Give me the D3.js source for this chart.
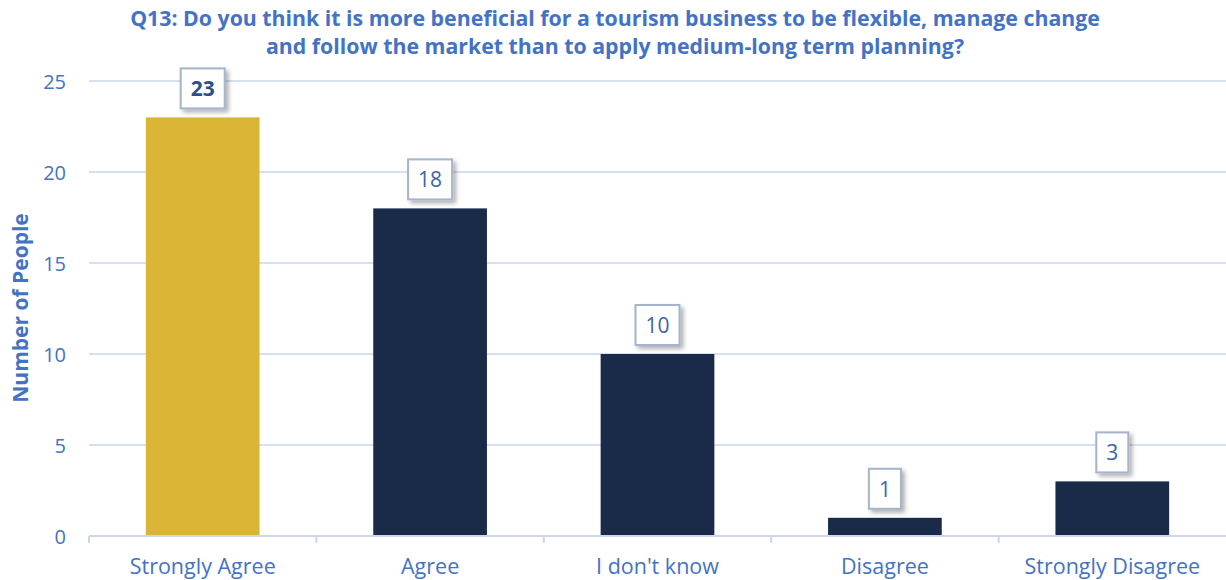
<!DOCTYPE html>
<html>
<head>
<meta charset="utf-8">
<script src="https://cdn.jsdelivr.net/npm/d3@7"></script>
<style>
  html, body { margin: 0; padding: 0; background: #fff; }
  svg { display: block; font-family: "Open Sans", sans-serif; }
</style>
</head>
<body>
<svg id="chart" width="1226" height="580"></svg>
<script>
const categories = ["Strongly Agree", "Agree", "I don't know", "Disagree", "Strongly Disagree"];
const values = [23, 18, 10, 1, 3];
const yTicks = [0, 5, 10, 15, 20, 25];
const titleLines = [
  "Q13: Do you think it is more beneficial for a tourism business to be flexible, manage change",
  "and follow the market than to apply medium-long term planning?"
];
const yLabel = "Number of People";

const W = 1226, H = 580;
const margin = { left: 89, right: 0, top: 81, bottom: 44 };
const svg = d3.select("#chart");

const defs = svg.append("defs");
const f = defs.append("filter").attr("id", "shadow").attr("x", "-30%").attr("y", "-30%").attr("width", "160%").attr("height", "160%");
f.append("feDropShadow").attr("dx", 3).attr("dy", 3).attr("stdDeviation", 2)
  .attr("flood-color", "#000").attr("flood-opacity", 0.3);

const x = d3.scaleBand().domain(categories).range([margin.left, W - margin.right])
  .paddingInner(0.5).paddingOuter(0.25);
const y = d3.scaleLinear().domain([0, 25]).range([536, 81]);

const textBlue = "#4472c4";
const gridCol = "#d6e0f1";

// gridlines
svg.append("g").selectAll("line").data(yTicks.filter(d => d > 0)).join("line")
  .attr("x1", margin.left).attr("x2", W)
  .attr("y1", d => y(d)).attr("y2", d => y(d))
  .attr("stroke", gridCol).attr("stroke-width", 2);

// y axis labels
const yAxis = d3.axisLeft(y).tickValues(yTicks).tickSize(0).tickPadding(23);
const gy = svg.append("g").attr("transform", `translate(${margin.left},0)`).call(yAxis);
gy.select(".domain").remove();
gy.selectAll("text").attr("fill", textBlue).style("font-size", "20px")
  .style("font-family", "'Open Sans', sans-serif").attr("dy", "0.35em");

// bars
svg.append("g").selectAll("rect").data(values).join("rect")
  .attr("x", (d, i) => x(categories[i]))
  .attr("width", x.bandwidth())
  .attr("y", d => y(d))
  .attr("height", d => y(0) - y(d))
  .attr("fill", (d, i) => i === 0 ? "#dab536" : "#1a2b4a");

// x axis
const xAxis = d3.axisBottom(x).tickSize(0).tickPadding(0);
const gx = svg.append("g").attr("transform", `translate(0,${y(0)})`).call(xAxis);
gx.select(".domain").remove();
gx.selectAll("text").attr("fill", textBlue).style("font-size", "21.5px")
  .style("font-family", "'Open Sans', sans-serif").attr("y", 38).attr("dy", null);
svg.append("line").attr("x1", margin.left).attr("x2", W).attr("y1", y(0)).attr("y2", y(0))
  .attr("stroke", "#cbd7ec").attr("stroke-width", 2);
// separator ticks at band boundaries
const bounds = [0, 1, 2, 3, 4].map(i => i === 0 ? margin.left : x(categories[i]) - x.step() * x.paddingInner() / 2);
svg.append("g").selectAll("line").data(bounds).join("line")
  .attr("x1", d => d).attr("x2", d => d)
  .attr("y1", y(0)).attr("y2", y(0) + 7)
  .attr("stroke", "#cbd7ec").attr("stroke-width", 2);

// data labels
const lg = svg.append("g").selectAll("g").data(values).join("g")
  .attr("transform", (d, i) => `translate(${x(categories[i]) + x.bandwidth() / 2},${y(d) - 8})`);
lg.each(function (d, i) {
  const g = d3.select(this);
  const rect = g.append("rect");
  const t = g.append("text").text(d)
    .attr("text-anchor", "middle")
    .attr("y", -20.5).attr("dy", "0.35em")
    .style("font-size", "21px")
    .style("font-weight", i === 0 ? "700" : "400")
    .attr("fill", i === 0 ? "#2f4f8a" : "#3d64a8");
  const bw = t.node().getComputedTextLength();
  const w = bw + 20, h = 40;
  rect.attr("x", -w / 2).attr("y", -h - 1).attr("width", w).attr("height", h)
    .attr("fill", "#fff").attr("stroke", "#a3b4cc").attr("stroke-width", 2)
    .attr("filter", "url(#shadow)");
});

// title
svg.append("g").selectAll("text").data(titleLines).join("text")
  .attr("x", 615).attr("y", (d, i) => 26 + i * 28)
  .attr("text-anchor", "middle")
  .style("font-size", "21.3px").style("font-weight", "700")
  .attr("fill", textBlue)
  .text(d => d);

// y label
svg.append("text")
  .attr("transform", `translate(28,308) rotate(-90)`)
  .attr("text-anchor", "middle")
  .style("font-size", "21px").style("font-weight", "700")
  .attr("fill", textBlue)
  .text(yLabel);
</script>
</body>
</html>
